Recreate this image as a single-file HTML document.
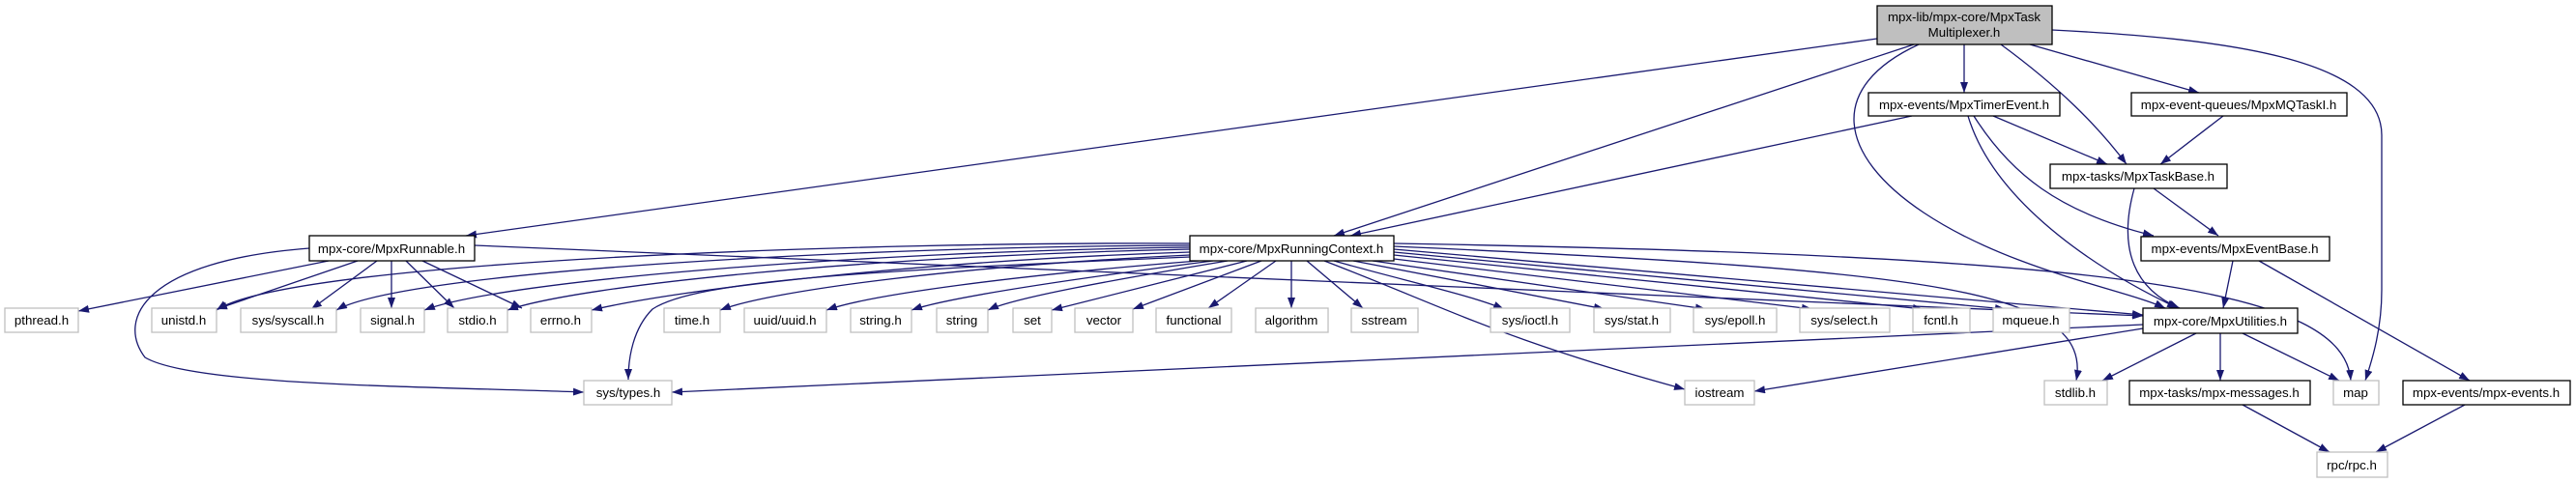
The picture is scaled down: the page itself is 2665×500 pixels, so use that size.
<!DOCTYPE html>
<html><head><meta charset="utf-8"><style>
html,body{margin:0;padding:0;background:#fff;width:2665px;height:500px;overflow:hidden}
svg text{font-family:"Liberation Sans",sans-serif;font-size:13.3px;fill:#000}
</style></head><body>
<svg width="2665" height="500" viewBox="0 0 2665 500" xmlns="http://www.w3.org/2000/svg">
<defs><marker id="a" markerUnits="userSpaceOnUse" markerWidth="11" markerHeight="8" refX="11" refY="4" orient="auto"><path d="M0,0 L11,4 L0,8 z" fill="#191970"/></marker></defs>
<g fill="none" stroke="#191970" stroke-width="1.3" marker-end="url(#a)">
<path d="M1942,40 L482,244"/>
<path d="M1980,46 L1380,244"/>
<path d="M2032,46 L2032,96"/>
<path d="M1985,46 C1890,90 1900,160 1990,220 C2080,280 2200,300 2240,319"/>
<path d="M2070,46 C2130,90 2170,130 2200,170"/>
<path d="M2100,46 L2275,96"/>
<path d="M2123,31 C2300,40 2464,60 2464,140 L2464,300 C2464,340 2455,370 2447,394"/>
<path d="M1978,120 L1397,244"/>
<path d="M2062,120 L2180,170"/>
<path d="M2036,120 C2060,200 2150,270 2253,319"/>
<path d="M2042,120 C2080,180 2130,220 2228,244"/>
<path d="M2300,120 L2235,170"/>
<path d="M2228,195 L2295,244"/>
<path d="M2208,195 C2190,260 2210,300 2255,319"/>
<path d="M2310,270 L2300,319"/>
<path d="M2337,270 L2555,394"/>
<path d="M2272,345 L2175,394"/>
<path d="M2297,345 L2297,394"/>
<path d="M2320,345 L2420,394"/>
<path d="M2217,340 L1815,405"/>
<path d="M2217,336 Q1500,370 695,406"/>
<path d="M2320,419 L2410,468"/>
<path d="M2550,419 L2458,468"/>
<path d="M340,270 L81,322"/>
<path d="M370,270 L224,320"/>
<path d="M390,270 L322,320"/>
<path d="M405,270 L405,319"/>
<path d="M420,270 L470,319"/>
<path d="M437,270 L540,319"/>
<path d="M320,257 C150,270 120,330 150,370 C200,400 450,400 604,406"/>
<path d="M491,254 L2217,327"/>
<path d="M1231,252 C900,250 300,270 224,321"/>
<path d="M1231,254 C900,255 420,280 348,321"/>
<path d="M1231,256 C900,260 520,290 439,321"/>
<path d="M1231,258 C900,265 600,295 525,321"/>
<path d="M1231,261 C950,270 700,300 612,321"/>
<path d="M1231,264 C1000,275 800,300 745,321"/>
<path d="M1240,270 C1050,285 900,305 855,321"/>
<path d="M1255,270 C1100,290 980,308 943,321"/>
<path d="M1270,270 C1150,290 1050,308 1022,321"/>
<path d="M1290,270 L1088,321"/>
<path d="M1305,270 L1172,320"/>
<path d="M1320,270 L1250,319"/>
<path d="M1336,270 L1336,319"/>
<path d="M1352,270 L1410,319"/>
<path d="M1231,266 C900,280 720,290 675,320 C655,340 650,370 650,393"/>
<path d="M1370,270 C1500,320 1550,350 1743,403"/>
<path d="M1380,270 C1450,290 1520,305 1556,320"/>
<path d="M1400,270 L1660,320"/>
<path d="M1420,270 L1765,320"/>
<path d="M1442,268 L1875,320"/>
<path d="M1442,264 L1990,320"/>
<path d="M1442,261 L2075,320"/>
<path d="M1442,258 L2217,326"/>
<path d="M1442,255 C2000,280 2165,300 2148,394"/>
<path d="M1442,252 C2200,265 2425,300 2432,394"/>
</g>
<g stroke-width="1.3">
<rect x="1942" y="6" width="181" height="40" fill="#bfbfbf" stroke="#000"/>
<text x="2032" y="22" text-anchor="middle">mpx-lib/mpx-core/MpxTask</text>
<text x="2032" y="38" text-anchor="middle">Multiplexer.h</text>
<g fill="#fff" stroke="#000">
<rect x="1933" y="96" width="198" height="24"/>
<rect x="2205" y="96" width="223" height="24"/>
<rect x="2121" y="170" width="183" height="25"/>
<rect x="320" y="244" width="171" height="26"/>
<rect x="1231" y="244" width="211" height="26"/>
<rect x="2215" y="245" width="195" height="25"/>
<rect x="2217" y="319" width="160" height="26"/>
<rect x="2203" y="394" width="187" height="25"/>
<rect x="2486" y="394" width="173" height="25"/>
</g>
<g fill="#fff" stroke="#bfbfbf">
<rect x="5" y="319" width="76" height="25"/>
<rect x="157" y="319" width="67" height="25"/>
<rect x="249" y="319" width="99" height="25"/>
<rect x="373" y="319" width="66" height="25"/>
<rect x="463" y="319" width="62" height="25"/>
<rect x="549" y="319" width="63" height="25"/>
<rect x="687" y="319" width="58" height="25"/>
<rect x="770" y="319" width="85" height="25"/>
<rect x="880" y="319" width="63" height="25"/>
<rect x="969" y="319" width="53" height="25"/>
<rect x="1048" y="319" width="40" height="25"/>
<rect x="1112" y="319" width="60" height="25"/>
<rect x="1196" y="319" width="78" height="25"/>
<rect x="1299" y="319" width="75" height="25"/>
<rect x="1398" y="319" width="69" height="25"/>
<rect x="1542" y="319" width="82" height="25"/>
<rect x="1649" y="319" width="79" height="25"/>
<rect x="1752" y="319" width="86" height="25"/>
<rect x="1862" y="319" width="93" height="25"/>
<rect x="1979" y="319" width="59" height="25"/>
<rect x="2062" y="319" width="79" height="25"/>
<rect x="604" y="394" width="91" height="25"/>
<rect x="1743" y="394" width="72" height="25"/>
<rect x="2115" y="394" width="65" height="25"/>
<rect x="2414" y="394" width="47" height="25"/>
<rect x="2397" y="468" width="73" height="26"/>
</g>
</g>
<g text-anchor="middle">
<text x="2032" y="113">mpx-events/MpxTimerEvent.h</text>
<text x="2316" y="113">mpx-event-queues/MpxMQTaskI.h</text>
<text x="2212" y="187">mpx-tasks/MpxTaskBase.h</text>
<text x="405" y="262">mpx-core/MpxRunnable.h</text>
<text x="1336" y="262">mpx-core/MpxRunningContext.h</text>
<text x="2312" y="262">mpx-events/MpxEventBase.h</text>
<text x="2297" y="337">mpx-core/MpxUtilities.h</text>
<text x="2296" y="411">mpx-tasks/mpx-messages.h</text>
<text x="2572" y="411">mpx-events/mpx-events.h</text>
<text x="43" y="336">pthread.h</text>
<text x="190" y="336">unistd.h</text>
<text x="298" y="336">sys/syscall.h</text>
<text x="406" y="336">signal.h</text>
<text x="494" y="336">stdio.h</text>
<text x="580" y="336">errno.h</text>
<text x="716" y="336">time.h</text>
<text x="812" y="336">uuid/uuid.h</text>
<text x="911" y="336">string.h</text>
<text x="995" y="336">string</text>
<text x="1068" y="336">set</text>
<text x="1142" y="336">vector</text>
<text x="1235" y="336">functional</text>
<text x="1336" y="336">algorithm</text>
<text x="1432" y="336">sstream</text>
<text x="1583" y="336">sys/ioctl.h</text>
<text x="1688" y="336">sys/stat.h</text>
<text x="1795" y="336">sys/epoll.h</text>
<text x="1908" y="336">sys/select.h</text>
<text x="2008" y="336">fcntl.h</text>
<text x="2101" y="336">mqueue.h</text>
<text x="650" y="411">sys/types.h</text>
<text x="1779" y="411">iostream</text>
<text x="2147" y="411">stdlib.h</text>
<text x="2437" y="411">map</text>
<text x="2433" y="486">rpc/rpc.h</text>
</g>
</svg>
</body></html>
